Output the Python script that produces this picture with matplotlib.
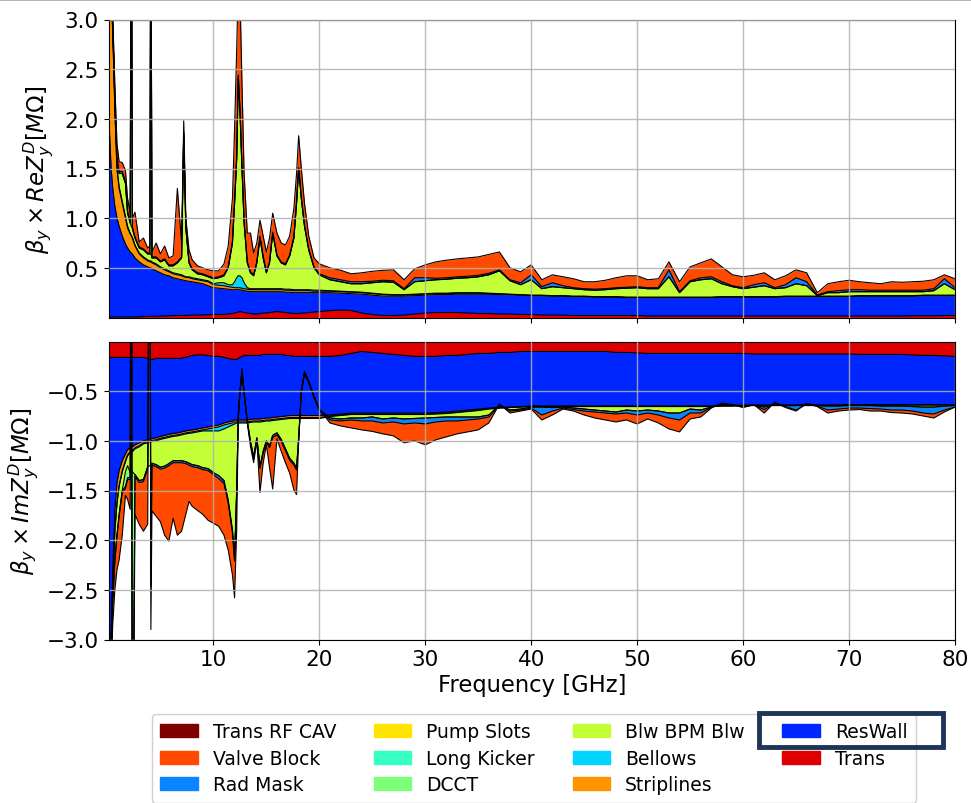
import numpy as np
import matplotlib
matplotlib.use("Agg")
import matplotlib.pyplot as plt
from matplotlib.patches import Patch, Rectangle

# ---------------- data ----------------
freq = [0.1, 0.2, 0.35, 0.5, 0.7, 0.9, 1.1, 1.4, 1.7, 1.9,
        2.15, 2.25, 2.35, 2.6, 3.0, 3.4, 3.8, 4.0, 4.1, 4.2,
        4.6, 5.0, 5.4, 5.8, 6.2, 6.6, 7.0, 7.2, 7.4, 7.7,
        8.0, 8.5, 9.0, 9.5, 10.0, 10.5, 11.0, 11.4, 11.8, 12.0,
        12.2, 12.35, 12.5, 12.7, 12.9, 13.2, 13.5, 13.8, 14.1, 14.4,
        14.7, 15.0, 15.3, 15.6, 16.0, 16.4, 16.8, 17.2, 17.6, 17.85,
        18.05, 18.3, 18.6, 19.0, 19.5, 20.0,
        21, 22, 23, 24, 25, 26, 27, 28, 29, 30,
        31, 32, 33, 34, 35, 36, 37, 38, 39, 40,
        41, 42, 43, 44, 45, 46, 47, 48, 49, 50,
        51, 52, 53, 54, 55, 56, 57, 58, 59, 60,
        61, 62, 63, 64, 65, 66, 67, 68, 69, 70,
        71, 72, 73, 74, 75, 76, 77, 78, 79, 80]

# ---- Real part contributions [MOhm] ----
re_trans = [0.005, 0.005, 0.005, 0.005, 0.005, 0.005, 0.005, 0.005, 0.005, 0.005,
            0.005, 0.005, 0.005, 0.005, 0.008, 0.01, 0.01, 0.012, 0.012, 0.012,
            0.012, 0.015, 0.015, 0.018, 0.02, 0.02, 0.02, 0.02, 0.02, 0.022,
            0.025, 0.025, 0.025, 0.028, 0.03, 0.03, 0.03, 0.035, 0.04, 0.045,
            0.05, 0.055, 0.06, 0.055, 0.05, 0.045, 0.04, 0.035, 0.035, 0.04,
            0.045, 0.045, 0.05, 0.055, 0.06, 0.055, 0.05, 0.045, 0.04, 0.04,
            0.04, 0.045, 0.045, 0.05, 0.055, 0.06,
            0.07, 0.075, 0.07, 0.045, 0.03, 0.02, 0.02, 0.025, 0.035, 0.045,
            0.05, 0.05, 0.05, 0.045, 0.04, 0.04, 0.035, 0.035, 0.03, 0.03,
            0.025, 0.025, 0.025, 0.02, 0.02, 0.02, 0.02, 0.02, 0.02, 0.02,
            0.015, 0.015, 0.015, 0.015, 0.015, 0.015, 0.015, 0.015, 0.015, 0.015,
            0.015, 0.015, 0.015, 0.015, 0.015, 0.015, 0.015, 0.015, 0.015, 0.015,
            0.015, 0.015, 0.015, 0.015, 0.015, 0.018, 0.018, 0.018, 0.02, 0.02]
re_reswall = [2.295, 1.845, 1.495, 1.295, 1.115, 0.995, 0.915, 0.815, 0.735, 0.695,
              0.655, 0.645, 0.635, 0.595, 0.552, 0.52, 0.5, 0.488, 0.488, 0.478,
              0.458, 0.435, 0.415, 0.402, 0.38, 0.37, 0.36, 0.355, 0.35, 0.343,
              0.335, 0.325, 0.315, 0.292, 0.27, 0.265, 0.26, 0.25, 0.24, 0.235,
              0.23, 0.225, 0.22, 0.22, 0.22, 0.22, 0.22, 0.225, 0.225, 0.22,
              0.215, 0.215, 0.21, 0.205, 0.2, 0.205, 0.205, 0.21, 0.21, 0.21,
              0.21, 0.205, 0.205, 0.2, 0.195, 0.19,
              0.18, 0.17, 0.17, 0.19, 0.195, 0.195, 0.195, 0.19, 0.185, 0.18,
              0.18, 0.18, 0.185, 0.19, 0.195, 0.195, 0.195, 0.195, 0.195, 0.19,
              0.195, 0.19, 0.19, 0.19, 0.19, 0.185, 0.185, 0.185, 0.18, 0.18,
              0.185, 0.185, 0.185, 0.185, 0.185, 0.185, 0.185, 0.19, 0.19, 0.19,
              0.19, 0.19, 0.19, 0.195, 0.195, 0.195, 0.195, 0.195, 0.195, 0.195,
              0.2, 0.2, 0.2, 0.2, 0.2, 0.197, 0.202, 0.202, 0.2, 0.2]
re_striplines = [1.3, 1.55, 1.7, 1.6, 0.98, 0.5, 0.38, 0.33, 0.26, 0.2,
                 0.18, 0.17, 0.16, 0.12, 0.08, 0.07, 0.06, 0.06, 0.06, 0.06,
                 0.06, 0.05, 0.05, 0.04, 0.04, 0.04, 0.04, 0.035, 0.035, 0.035,
                 0.03, 0.03, 0.03, 0.04, 0.03, 0.03, 0.03, 0.025, 0.025, 0.02,
                 0.02, 0.02, 0.02, 0.02, 0.02, 0.02, 0.02, 0.02, 0.02, 0.02,
                 0.02, 0.02, 0.02, 0.02, 0.02, 0.02, 0.02, 0.02, 0.02, 0.02,
                 0.02, 0.02, 0.02, 0.02, 0.015, 0.015,
                 0.015, 0.015, 0.015, 0.015, 0.015, 0.015, 0.01, 0.01, 0.01, 0.01,
                 0.01, 0.01, 0.01, 0.01, 0.01, 0.005, 0.005, 0.002, 0.002, 0.002,
                 0.002, 0.002, 0.002, 0.002, 0.002, 0.002, 0.002, 0.002, 0.002, 0.002,
                 0.002, 0.002, 0.002, 0.002, 0.002, 0.002, 0.002, 0.002, 0.002, 0.002,
                 0.002, 0.002, 0.002, 0.002, 0.002, 0.002, 0.002, 0.002, 0.002, 0.002,
                 0.002, 0.002, 0.002, 0.002, 0.002, 0.002, 0.002, 0.002, 0.002, 0.002]
re_bellows = [0.0, 0.0, 0.0, 0.0, 0.0, 0.0, 0.02, 0.02, 0.02, 0.02,
              0.01, 0.01, 0.01, 0.01, 0.01, 0.01, 0.01, 0.01, 0.01, 0.01,
              0.01, 0.01, 0.01, 0.01, 0.01, 0.01, 0.01, 0.01, 0.005, 0.01,
              0.01, 0.01, 0.01, 0.01, 0.01, 0.025, 0.03, 0.02, 0.025, 0.06,
              0.10, 0.12, 0.12, 0.105, 0.06, 0.015, 0.01, 0.01, 0.01, 0.01,
              0.01, 0.01, 0.01, 0.01, 0.01, 0.01, 0.01, 0.01, 0.01, 0.01,
              0.01, 0.01, 0.01, 0.01, 0.01, 0.01,
              0.005, 0.005, 0.005, 0.005, 0.005, 0.005, 0.005, 0.005, 0.005, 0.005,
              0.005, 0.005, 0.005, 0.005, 0.005, 0.005, 0.005, 0.003, 0.003, 0.003,
              0.003, 0.003, 0.003, 0.003, 0.003, 0.003, 0.003, 0.003, 0.003, 0.003,
              0.003, 0.003, 0.003, 0.003, 0.003, 0.003, 0.003, 0.003, 0.003, 0.003,
              0.003, 0.003, 0.003, 0.003, 0.003, 0.003, 0.003, 0.003, 0.003, 0.003,
              0.003, 0.003, 0.003, 0.003, 0.003, 0.003, 0.003, 0.003, 0.003, 0.003]
re_blw_bpm = [0.0, 0.0, 0.0, 0.05, 0.1, 0.1, 0.13, 0.28, 0.33, 0.13,
              0.1, 0.09, 0.09, 0.07, 0.05, 0.07, 0.06, 0.07, 0.07, 0.04,
              0.06, 0.05, 0.09, 0.05, 0.07, 0.11, 0.17, 1.43, 0.49, 0.14,
              0.08, 0.05, 0.05, 0.04, 0.05, 0.05, 0.07, 0.17, 0.42, 0.79,
              1.2, 2.0, 1.68, 1.1, 0.6, 0.25, 0.16, 0.13, 0.26, 0.51,
              0.31, 0.16, 0.26, 0.56, 0.33, 0.26, 0.245, 0.335, 0.52, 0.87,
              1.22, 0.92, 0.64, 0.40, 0.225, 0.155,
              0.11, 0.095, 0.08, 0.085, 0.105, 0.125, 0.125, 0.05, 0.125, 0.13,
              0.135, 0.14, 0.145, 0.15, 0.16, 0.185, 0.23, 0.135, 0.10, 0.155,
              0.065, 0.09, 0.08, 0.075, 0.065, 0.065, 0.07, 0.08, 0.09, 0.095,
              0.085, 0.085, 0.205, 0.045, 0.155, 0.175, 0.185, 0.13, 0.10, 0.08,
              0.095, 0.11, 0.08, 0.085, 0.125, 0.105, 0.005, 0.035, 0.035, 0.045,
              0.04, 0.04, 0.04, 0.04, 0.04, 0.04, 0.035, 0.045, 0.115, 0.055]
re_dcct = [0.0, 0.0, 0.0, 0.0, 0.0, 0.0, 0.0, 0.0, 0.0, 0.0,
           0.0, 4.0, 0.0, 0.0, 0.0, 0.0, 0.0, 0.0, 4.0, 0.0,
           0.0, 0.0, 0.0, 0.0, 0.0, 0.0, 0.0, 0.0, 0.0, 0.0,
           0.0, 0.0, 0.0, 0.0, 0.0, 0.0, 0.0, 0.0, 0.0, 0.0,
           0.0, 0.0, 0.0, 0.0, 0.0, 0.0, 0.0, 0.0, 0.0, 0.0,
           0.0, 0.0, 0.0, 0.0, 0.0, 0.0, 0.0, 0.0, 0.0, 0.0,
           0.0, 0.0, 0.0, 0.0, 0.0, 0.0,
           0.0, 0.0, 0.0, 0.0, 0.0, 0.0, 0.0, 0.0, 0.0, 0.0,
           0.0, 0.0, 0.0, 0.0, 0.0, 0.0, 0.0, 0.0, 0.0, 0.0,
           0.0, 0.0, 0.0, 0.0, 0.0, 0.0, 0.0, 0.0, 0.0, 0.0,
           0.0, 0.0, 0.0, 0.0, 0.0, 0.0, 0.0, 0.0, 0.0, 0.0,
           0.0, 0.0, 0.0, 0.0, 0.0, 0.0, 0.0, 0.0, 0.0, 0.0,
           0.0, 0.0, 0.0, 0.0, 0.0, 0.0, 0.0, 0.0, 0.0, 0.0]
re_radmask = [0.0, 0.0, 0.0, 0.0, 0.0, 0.0, 0.02, 0.02, 0.02, 0.02,
              0.01, 0.01, 0.01, 0.01, 0.01, 0.01, 0.01, 0.01, 0.01, 0.01,
              0.01, 0.01, 0.01, 0.01, 0.01, 0.01, 0.01, 0.02, 0.01, 0.01,
              0.01, 0.01, 0.01, 0.01, 0.01, 0.01, 0.01, 0.01, 0.02, 0.02,
              0.02, 0.02, 0.02, 0.02, 0.02, 0.01, 0.01, 0.01, 0.01, 0.02,
              0.02, 0.01, 0.01, 0.01, 0.01, 0.01, 0.01, 0.01, 0.01, 0.01,
              0.01, 0.01, 0.01, 0.01, 0.01, 0.01,
              0.02, 0.02, 0.02, 0.02, 0.015, 0.015, 0.015, 0.01, 0.04, 0.03,
              0.015, 0.015, 0.015, 0.015, 0.015, 0.015, 0.01, 0.01, 0.02, 0.05,
              0.02, 0.04, 0.02, 0.01, 0.01, 0.01, 0.01, 0.01, 0.01, 0.01,
              0.01, 0.01, 0.07, 0.01, 0.01, 0.02, 0.02, 0.02, 0.01, 0.01,
              0.025, 0.03, 0.01, 0.03, 0.06, 0.04, 0.005, 0.01, 0.02, 0.02,
              0.02, 0.015, 0.015, 0.015, 0.015, 0.015, 0.015, 0.02, 0.05, 0.02]
re_valve = [0.1, 0.1, 0.1, 0.1, 0.15, 0.15, 0.1, 0.09, 0.11, 0.13,
            0.09, 0.09, 0.09, 0.25, 0.05, 0.11, 0.05, 0.07, 0.07, 0.05,
            0.14, 0.07, 0.13, 0.07, 0.09, 0.74, 0.14, 0.11, 0.09, 0.12,
            0.09, 0.07, 0.06, 0.06, 0.07, 0.06, 0.11, 0.21, 0.43, 0.73,
            1.08, 0.96, 1.18, 0.83, 0.48, 0.29, 0.39, 0.22, 0.19, 0.16,
            0.2, 0.2, 0.24, 0.19, 0.22, 0.19, 0.19, 0.19, 0.29, 0.29,
            0.32, 0.29, 0.22, 0.13, 0.09, 0.1,
            0.10, 0.096, 0.08, 0.09, 0.10, 0.10, 0.11, 0.09, 0.09, 0.13,
            0.165, 0.177, 0.18, 0.185, 0.185, 0.19, 0.18, 0.12, 0.11, 0.10,
            0.07, 0.08, 0.09, 0.09, 0.07, 0.075, 0.085, 0.10, 0.115, 0.11,
            0.08, 0.09, 0.08, 0.10, 0.14, 0.15, 0.18, 0.15, 0.11, 0.11,
            0.095, 0.10, 0.08, 0.09, 0.08, 0.09, 0.025, 0.08, 0.09, 0.095,
            0.08, 0.075, 0.065, 0.085, 0.08, 0.085, 0.09, 0.09, 0.04, 0.09]

# ---- Imaginary part contributions [MOhm] ----
im_trans = [-0.16, -0.16, -0.16, -0.16, -0.16, -0.16, -0.16, -0.16, -0.16, -0.16,
            -0.16, -0.16, -0.16, -0.16, -0.16, -0.16, -0.17, -0.18, -0.18, -0.18,
            -0.17, -0.17, -0.17, -0.17, -0.17, -0.17, -0.17, -0.16, -0.16, -0.15,
            -0.14, -0.135, -0.135, -0.14, -0.15, -0.15, -0.16, -0.17, -0.18, -0.18,
            -0.18, -0.17, -0.16, -0.15, -0.14, -0.14, -0.14, -0.14, -0.14, -0.14,
            -0.13, -0.13, -0.13, -0.13, -0.13, -0.13, -0.14, -0.14, -0.15, -0.15,
            -0.15, -0.15, -0.15, -0.15, -0.15, -0.15,
            -0.15, -0.14, -0.12, -0.10, -0.11, -0.12, -0.13, -0.14, -0.15, -0.15,
            -0.15, -0.14, -0.14, -0.13, -0.12, -0.12, -0.11, -0.11, -0.10, -0.10,
            -0.10, -0.10, -0.10, -0.10, -0.10, -0.10, -0.10, -0.11, -0.11, -0.115,
            -0.12, -0.12, -0.12, -0.12, -0.12, -0.12, -0.12, -0.12, -0.12, -0.12,
            -0.125, -0.125, -0.125, -0.125, -0.125, -0.125, -0.125, -0.125, -0.125, -0.125,
            -0.13, -0.13, -0.13, -0.13, -0.13, -0.135, -0.14, -0.14, -0.145, -0.15]
im_reswall = [-3.44, -3.04, -2.74, -2.14, -1.54, -1.26, -1.14, -1.04, -0.97, -0.93,
              -0.91, -0.9, -0.9, -0.88, -0.86, -0.84, -0.82, -0.8, -0.8, -0.795,
              -0.8, -0.785, -0.775, -0.765, -0.755, -0.75, -0.74, -0.745, -0.74, -0.745,
              -0.75, -0.745, -0.735, -0.72, -0.7, -0.69, -0.66, -0.64, -0.62, -0.61,
              -0.61, -0.62, -0.63, -0.64, -0.65, -0.65, -0.645, -0.64, -0.64, -0.64,
              -0.645, -0.64, -0.64, -0.635, -0.63, -0.625, -0.61, -0.605, -0.595, -0.595,
              -0.595, -0.595, -0.595, -0.595, -0.595, -0.595,
              -0.59, -0.59, -0.60, -0.62, -0.61, -0.60, -0.59, -0.58, -0.57, -0.57,
              -0.565, -0.57, -0.56, -0.56, -0.56, -0.55, -0.555, -0.55, -0.555, -0.55,
              -0.55, -0.55, -0.55, -0.55, -0.55, -0.55, -0.55, -0.54, -0.54, -0.535,
              -0.53, -0.53, -0.53, -0.53, -0.53, -0.53, -0.53, -0.525, -0.525, -0.52,
              -0.515, -0.515, -0.515, -0.515, -0.515, -0.515, -0.515, -0.515, -0.515, -0.51,
              -0.505, -0.505, -0.505, -0.505, -0.505, -0.50, -0.495, -0.495, -0.49, -0.485]
im_striplines = [-0.1, -0.15, -0.2, -0.15, -0.2, -0.2, -0.15, -0.1, -0.07, -0.05,
                 -0.04, -0.04, -0.04, -0.03, -0.03, -0.02, -0.02, -0.02, -0.02, -0.02,
                 -0.02, -0.02, -0.02, -0.02, -0.02, -0.02, -0.02, -0.02, -0.02, -0.02,
                 -0.02, -0.02, -0.02, -0.02, -0.02, -0.02, -0.02, -0.02, -0.02, -0.02,
                 -0.02, -0.02, -0.02, -0.02, -0.02, -0.02, -0.02, -0.02, -0.02, -0.02,
                 -0.02, -0.02, -0.02, -0.02, -0.02, -0.02, -0.02, -0.02, -0.02, -0.02,
                 -0.02, -0.02, -0.02, -0.02, -0.02, -0.02,
                 -0.01, -0.01, -0.01, -0.01, -0.01, -0.01, -0.01, -0.01, -0.01, -0.01,
                 -0.01, -0.01, -0.01, -0.01, -0.01, -0.005, -0.002, -0.002, -0.002, -0.002,
                 -0.002, -0.002, -0.002, -0.002, -0.002, -0.002, -0.002, -0.002, -0.002, -0.002,
                 -0.002, -0.002, -0.002, -0.002, -0.002, -0.002, -0.002, -0.002, -0.002, -0.002,
                 -0.002, -0.002, -0.002, -0.002, -0.002, -0.002, -0.002, -0.002, -0.002, -0.002,
                 -0.002, -0.002, -0.002, -0.002, -0.002, -0.002, -0.002, -0.002, -0.002, -0.002]
im_bellows = [0.0, 0.0, 0.0, -0.01, -0.01, -0.01, -0.01, -0.01, -0.01, -0.01,
              -0.01, -0.01, -0.01, -0.01, -0.01, -0.01, -0.01, -0.01, -0.01, -0.01,
              -0.01, -0.01, -0.01, -0.01, -0.01, -0.01, -0.01, -0.01, -0.01, -0.01,
              -0.01, -0.01, -0.01, -0.02, -0.03, -0.04, -0.04, -0.03, -0.02, -0.02,
              -0.01, -0.01, -0.01, -0.01, -0.01, -0.01, -0.01, -0.01, -0.01, -0.01,
              -0.01, -0.01, -0.01, -0.01, -0.01, -0.01, -0.01, -0.01, -0.01, -0.01,
              -0.01, -0.01, -0.01, -0.01, -0.01, -0.01,
              -0.005, -0.005, -0.005, -0.005, -0.005, -0.005, -0.005, -0.005, -0.005, -0.005,
              -0.005, -0.005, -0.005, -0.005, -0.005, -0.005, -0.003, -0.003, -0.003, -0.003,
              -0.003, -0.003, -0.003, -0.003, -0.003, -0.003, -0.003, -0.003, -0.003, -0.003,
              -0.003, -0.003, -0.003, -0.003, -0.003, -0.003, -0.003, -0.003, -0.003, -0.003,
              -0.003, -0.003, -0.003, -0.003, -0.003, -0.003, -0.003, -0.003, -0.003, -0.003,
              -0.003, -0.003, -0.003, -0.003, -0.003, -0.003, -0.003, -0.003, -0.003, -0.003]
im_blw_bpm = [-0.1, -0.15, -0.1, -0.14, -0.29, -0.32, -0.29, -0.19, -0.1, -0.1,
              -0.2, -0.2, -0.2, -0.26, -0.34, -0.36, -0.24, -0.24, -0.24, -0.22,
              -0.24, -0.28, -0.28, -0.265, -0.245, -0.25, -0.26, -0.27, -0.28, -0.3,
              -0.32, -0.34, -0.37, -0.38, -0.42, -0.45, -0.52, -0.74, -1.06, -1.35,
              -0.68, 0.07, 0.3, 0.52, 0.3, 0.02, -0.19, -0.35, -0.16, -0.45,
              -0.3, -0.2, -0.25, -0.15, -0.13, -0.2, -0.3, -0.4, -0.45, -0.5,
              -0.2, 0.27, 0.46, 0.37, 0.22, 0.09,
              -0.015, -0.035, -0.035, -0.035, -0.025, -0.045, -0.035, -0.045, -0.04, -0.035,
              -0.035, -0.035, -0.045, -0.055, -0.065, -0.06, 0.03, -0.025, -0.02, -0.005,
              -0.005, -0.01, -0.005, -0.015, -0.025, -0.035, -0.045, -0.055, -0.035, -0.045,
              -0.035, -0.045, -0.065, -0.065, -0.025, -0.035, -0.005, 0.02, 0.01, -0.005,
              0.005, -0.015, 0.015, 0.0, 0.0, 0.01, 0.0, -0.005, -0.005, -0.005,
              -0.005, -0.005, -0.01, -0.01, -0.01, -0.015, -0.02, -0.02, -0.01, -0.005]
im_dcct = [0.0, 0.0, 0.0, 0.0, 0.0, 0.0, 0.0, 0.0, -0.15, -0.12,
           -0.05, 5.0, -4.0, 0.0, 0.0, 0.0, 0.0, 4.0, -1.2, 0.0,
           0.0, 0.0, 0.0, 0.0, 0.0, 0.0, 0.0, 0.0, 0.0, 0.0,
           0.0, 0.0, 0.0, 0.0, 0.0, 0.0, 0.0, 0.0, 0.0, 0.0,
           0.0, 0.0, 0.0, 0.0, 0.0, 0.0, 0.0, 0.0, 0.0, 0.0,
           0.0, 0.0, 0.0, 0.0, 0.0, 0.0, 0.0, 0.0, 0.0, 0.0,
           0.0, 0.0, 0.0, 0.0, 0.0, 0.0,
           0.0, 0.0, 0.0, 0.0, 0.0, 0.0, 0.0, 0.0, 0.0, 0.0,
           0.0, 0.0, 0.0, 0.0, 0.0, 0.0, 0.0, 0.0, 0.0, 0.0,
           0.0, 0.0, 0.0, 0.0, 0.0, 0.0, 0.0, 0.0, 0.0, 0.0,
           0.0, 0.0, 0.0, 0.0, 0.0, 0.0, 0.0, 0.0, 0.0, 0.0,
           0.0, 0.0, 0.0, 0.0, 0.0, 0.0, 0.0, 0.0, 0.0, 0.0,
           0.0, 0.0, 0.0, 0.0, 0.0, 0.0, 0.0, 0.0, 0.0, 0.0]
im_radmask = [0.0, 0.0, 0.0, -0.01, -0.01, -0.01, -0.01, -0.02, -0.02, -0.02,
              -0.02, -0.02, -0.02, -0.02, -0.02, -0.02, -0.02, -0.02, -0.02, -0.02,
              -0.02, -0.02, -0.02, -0.02, -0.02, -0.02, -0.02, -0.02, -0.02, -0.02,
              -0.02, -0.02, -0.02, -0.02, -0.02, -0.03, -0.03, -0.03, -0.03, -0.03,
              -0.02, -0.01, -0.01, -0.01, -0.01, -0.01, -0.02, -0.02, -0.01, -0.02,
              -0.02, -0.01, -0.02, -0.02, -0.02, -0.02, -0.02, -0.02, -0.02, -0.02,
              -0.01, -0.01, -0.01, -0.01, -0.01, -0.01,
              -0.02, -0.02, -0.02, -0.03, -0.04, -0.04, -0.04, -0.05, -0.045, -0.06,
              -0.045, -0.04, -0.04, -0.03, -0.02, -0.02, -0.005, -0.01, -0.01, -0.01,
              -0.08, -0.035, -0.01, -0.015, -0.02, -0.02, -0.02, -0.02, -0.03, -0.04,
              -0.03, -0.04, -0.05, -0.07, -0.04, -0.03, -0.005, 0.005, 0.0, -0.01,
              0.0, -0.025, 0.005, -0.01, -0.045, 0.005, -0.005, -0.04, -0.03, -0.025,
              -0.025, -0.03, -0.03, -0.04, -0.04, -0.045, -0.06, -0.07, -0.04, -0.015]
im_valve = [-0.1, -0.1, -0.15, -0.24, -0.29, -0.34, -0.44, -0.43, -0.07, -0.2,
            -0.3, -0.3, -0.3, -0.38, -0.42, -0.5, -0.56, -0.5, -0.43, -0.46,
            -0.5, -0.53, -0.675, -0.76, -0.56, -0.73, -0.69, -0.6, -0.51, -0.365,
            -0.4, -0.43, -0.45, -0.5, -0.49, -0.48, -0.52, -0.47, -0.42, -0.37,
            -0.38, -0.01, 0.02, 0.04, 0.03, -0.01, -0.03, -0.04, -0.02, -0.24,
            -0.1, -0.03, -0.2, -0.52, -0.04, -0.1, -0.12, -0.13, -0.25, -0.245,
            -0.02, 0.015, 0.025, 0.015, 0.015, 0.015,
            -0.03, -0.05, -0.08, -0.09, -0.105, -0.11, -0.14, -0.19, -0.18, -0.21,
            -0.18, -0.16, -0.13, -0.12, -0.11, -0.06, 0.015, -0.02, -0.01, -0.01,
            -0.05, -0.04, -0.01, -0.015, -0.04, -0.06, -0.07, -0.08, -0.07, -0.09,
            -0.06, -0.08, -0.11, -0.12, -0.06, -0.04, -0.005, 0.005, 0.005, -0.005,
            0.005, -0.035, 0.015, -0.01, -0.01, 0.01, -0.005, -0.03, -0.02, -0.02,
            -0.015, -0.025, -0.02, -0.025, -0.03, -0.03, -0.03, -0.04, -0.02, 0.0]

legend_names = ["Trans RF CAV", "Valve Block", "Rad Mask", "Pump Slots", "Long Kicker",
                "DCCT", "Blw BPM Blw", "Bellows", "Striplines", "ResWall", "Trans"]
legend_colors = ["#800000", "#ff4a00", "#0a84ff", "#ffe400", "#38ffc4",
                 "#7dff7a", "#c3ff37", "#00d4ff", "#ff9400", "#0026ff", "#de0000"]
color_of = dict(zip(legend_names, legend_colors))

re_layers = [re_trans, re_reswall, re_striplines, re_bellows, re_blw_bpm, re_dcct, re_radmask, re_valve]
im_layers = [im_trans, im_reswall, im_striplines, im_bellows, im_blw_bpm, im_dcct, im_radmask, im_valve]
layer_names = ["Trans", "ResWall", "Striplines", "Bellows", "Blw BPM Blw", "DCCT", "Rad Mask", "Valve Block"]

for arr in re_layers + im_layers:
    assert len(arr) == len(freq), len(arr)

# ---------------- figure ----------------
W, H = 971, 804
fig = plt.figure(figsize=(W / 100, H / 100), dpi=100)
left = 108.5 / W
width = (955 - 108.5) / W
ax1 = fig.add_axes([left, 1 - 318.5 / H, width, (318.5 - 20.5) / H])
ax2 = fig.add_axes([left, 1 - 640.5 / H, width, (640.5 - 342.5) / H])

f = np.array(freq)


def draw(ax, layers):
    cum = np.cumsum(np.array(layers, dtype=float), axis=0)
    for k in range(len(layers) - 1, -1, -1):
        ax.fill_between(f, 0, cum[k], color=color_of[layer_names[k]], lw=0, zorder=1)
    for k in range(len(layers)):
        ax.plot(f, cum[k], color="black", lw=0.8, zorder=2)


draw(ax1, re_layers)
draw(ax2, im_layers)

for ax in (ax1, ax2):
    ax.set_xlim(0.1, 80)
    ax.set_xticks([10, 20, 30, 40, 50, 60, 70, 80])
    ax.grid(True, color="#b0b0b0", lw=1.0, alpha=0.85)
    ax.set_axisbelow(False)
    ax.tick_params(labelsize=15.5)

ax1.set_ylim(0, 3.0)
ax1.set_yticks([0.5, 1.0, 1.5, 2.0, 2.5, 3.0])
ax1.tick_params(labelbottom=False)
ax1.set_ylabel(r"$\beta_y \times ReZ_y^D[M\Omega]$", fontsize=16.5, labelpad=6)

ax2.set_ylim(-3.0, 0)
ax2.set_yticks([-3.0, -2.5, -2.0, -1.5, -1.0, -0.5])
ax2.set_ylabel(r"$\beta_y \times ImZ_y^D[M\Omega]$", fontsize=16.5, labelpad=4)
ax2.set_xlabel("Frequency [GHz]", fontsize=16.3, labelpad=3)

handles = [Patch(facecolor=c, edgecolor=c) for c in legend_colors]
fig.legend(handles, legend_names, ncol=4, loc="upper left",
           bbox_to_anchor=(152 / W, 1 - 715 / H), borderaxespad=0.0,
           fontsize=13.5, handlelength=2.0, handletextpad=0.8,
           columnspacing=2.0, labelspacing=0.4, borderpad=0.45,
           framealpha=1.0, edgecolor="#d0d0d0")

# highlight box around ResWall entry
fig.add_artist(Rectangle((759 / W, 1 - 748 / H), (943 - 759) / W, (748 - 714) / H,
                         transform=fig.transFigure, fill=False,
                         edgecolor="#1f3558", lw=3.5, zorder=10))
# thin grey strip at the very top
fig.add_artist(Rectangle((0, 1 - 1.5 / H), 1, 1.5 / H, transform=fig.transFigure,
                         facecolor="#b4b4b4", edgecolor="none", zorder=10))

fig.savefig("out.png", dpi=100)
